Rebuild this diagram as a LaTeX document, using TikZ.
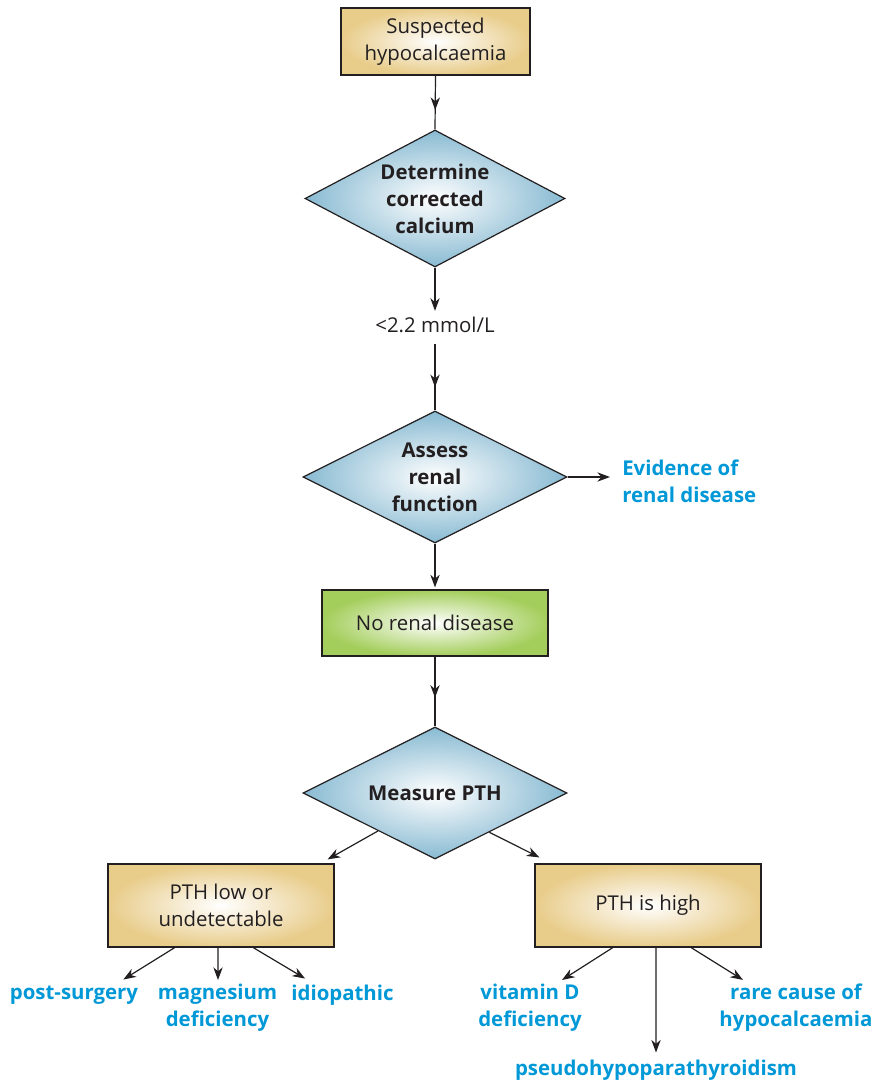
\documentclass[tikz,border=0pt]{standalone}
\usepackage{fontspec}
\setmainfont{Open Sans}
\usetikzlibrary{shapes.geometric,arrows.meta,calc,decorations.markings}
\definecolor{tanC}{RGB}{232,204,138}
\definecolor{blueC}{RGB}{136,186,210}
\definecolor{greenC}{RGB}{164,206,92}
\definecolor{lblue}{RGB}{0,152,214}
\definecolor{lineC}{RGB}{35,31,32}
\begin{document}
\begin{tikzpicture}[x=0.75pt,y=-0.75pt,
  every node/.style={font=\fontsize{15.3}{20.3}\selectfont, text=lineC},
  tipC/.tip={Stealth[length=9.5pt,width=7pt,inset=3pt]},
  conn/.style={draw=lineC, line width=0.9pt},
  arr/.style={conn, -tipC},
  midarrow/.style={conn, postaction={decorate}, decoration={markings, mark=at position #1 with {\arrow{tipC}}}},
  tanbox/.style={draw=lineC, line width=0.9pt, shading=radial, inner color=white, outer color=tanC, inner sep=0pt, align=center, minimum width=169.5pt},
  greenbox/.style={draw=lineC, line width=0.9pt, shading=radial, inner color=white, outer color=greenC, inner sep=0pt, align=center},
  decision/.style={diamond, aspect=2, draw=lineC, line width=0.9pt, shading=radial, inner color=white, outer color=blueC, inner sep=0pt, align=center, font=\fontsize{15.3}{20.3}\selectfont\bfseries, minimum width=198pt, minimum height=99pt},
  outcome/.style={text=lblue, font=\fontsize{15.3}{20.3}\selectfont\bfseries, align=center, inner sep=0pt}
]
\useasboundingbox (0,0) rectangle (872,1081);

% main column
\node[tanbox, minimum width=141.75pt, minimum height=50.25pt] (b1) at (435.5,41.5) {Suspected\\hypocalcaemia};
\node[decision, minimum width=195pt, minimum height=102.75pt] (d1) at (435,198.5) {Determine\\corrected\\calcium};
\node[inner sep=0pt] (lab) at (435,325) {<2.2 mmol/L};
\node[decision] (d2) at (435,477) {Assess\\renal\\function};
\node[outcome, align=left, anchor=west] (ev) at (622,481) {Evidence of\\renal disease};
\node[greenbox, minimum width=169.5pt, minimum height=49.5pt] (gb) at (435,623) {No renal disease};
\node[decision] (d3) at (435,793) {Measure PTH};

% PTH boxes
\node[tanbox, minimum height=62.25pt] (bl) at (221,905.5) {PTH low or\\undetectable};
\node[tanbox, minimum height=62.25pt] (br) at (648,905.5) {PTH is high};

% outcomes
\node[outcome] (ps) at (74,995) {post-surgery};
\node[outcome] (mg) at (217.5,1008) {magnesium\\deficiency};
\node[outcome] (id) at (342.5,995) {idiopathic};
\node[outcome] (vd) at (530,1008) {vitamin D\\deficiency};
\node[outcome] (pp) at (656,1070) {pseudohypoparathyroidism};
\node[outcome] (rc) at (796,1008) {rare cause of\\hypocalcaemia};

% connectors
\draw[midarrow=0.64] (b1.south) -- (d1.north);
\draw[arr] (d1.south) -- ($(lab.north)+(0,-6)$);
\draw[midarrow=0.65] ($(lab.south)+(0,11)$) -- (d2.north);
\draw[arr] (d2.east) -- ($(ev.west)+(-12,-4)$);
\draw[arr, shorten >=1.5pt] (d2.south) -- (gb.north);
\draw[midarrow=0.59] (gb.south) -- (d3.north);

\draw[arr] ($(d3.west)!0.57!(d3.south)$) -- ($(bl.north east)+(-7,-4)$);
\draw[arr] ($(d3.south)!0.41!(d3.east)$) -- ($(br.north west)+(5,-6)$);

\draw[arr] ($(bl.south west)!0.296!(bl.south east)$) -- ($(ps.north east)+(-15,-6)$);
\draw[arr] ($(bl.south west)!0.487!(bl.south east)$) -- ($(mg.north)+(0.5,-4)$);
\draw[arr] ($(bl.south west)!0.642!(bl.south east)$) -- ($(id.north west)+(14,-6)$);

\draw[arr] ($(br.south west)!0.345!(br.south east)$) -- ($(vd.north)+(32,-4)$);
\draw[arr] ($(br.south west)!0.535!(br.south east)$) -- ($(pp.north)+(0,-7)$);
\draw[arr] ($(br.south west)!0.69!(br.south east)$) -- ($(rc.north)+(-53,-4)$);
\end{tikzpicture}
\end{document}
